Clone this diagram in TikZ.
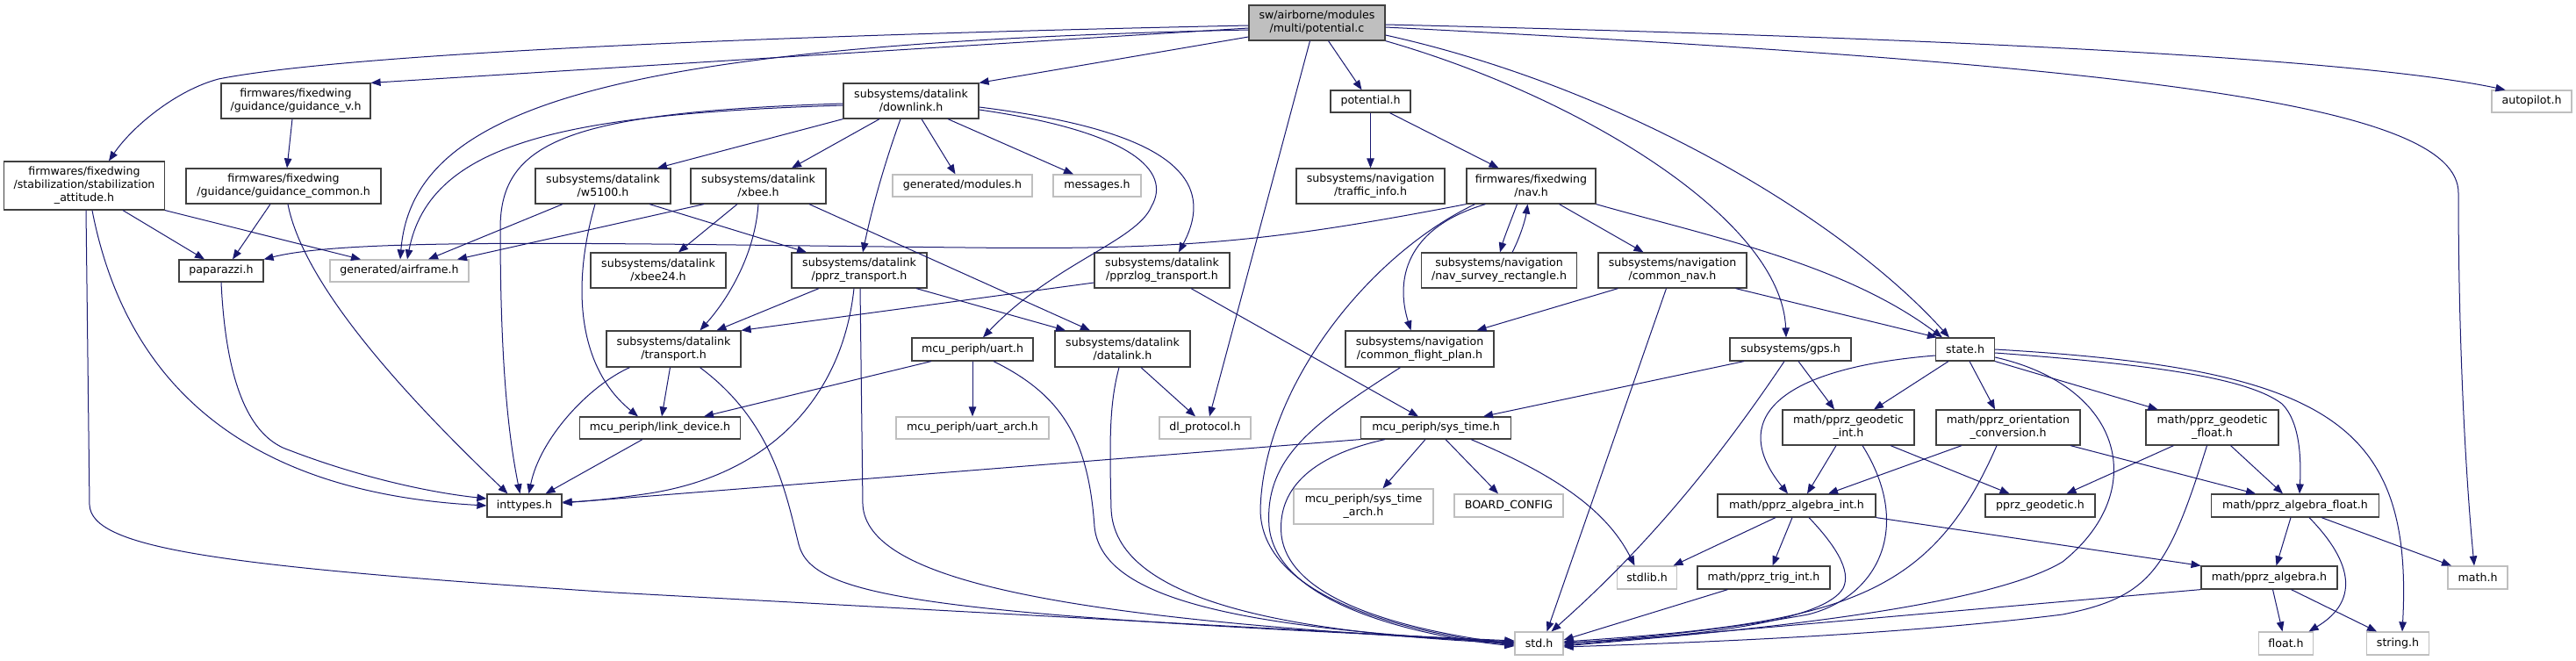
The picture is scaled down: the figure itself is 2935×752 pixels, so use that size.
\documentclass[tikz,border=0pt]{standalone}
\usepackage{fontspec}
\setmainfont{DejaVu Sans}
\usetikzlibrary{arrows.meta}
\definecolor{edgeblue}{RGB}{25,25,112}
\definecolor{boxgray}{RGB}{64,64,64}
\definecolor{lightbd}{RGB}{191,191,191}
\begin{document}
\begin{tikzpicture}[x=1pt,y=-1pt,
 nb/.style={draw=boxgray, line width=1.2pt, fill=white, inner sep=0pt, align=center, font=\fontsize{12.6}{15}\selectfont},
 gb/.style={nb, draw=lightbd},
 rb/.style={nb, fill=lightbd},
 e/.style={draw=edgeblue, line width=1pt, -{Triangle[length=11pt,width=8.5pt]}}
]
\fill[white] (0,0) rectangle (2935,752);
\useasboundingbox (0,0) rectangle (2935,752);

% nodes
\node[rb, minimum width=155pt, minimum height=40pt] (root) at (1500.5,26) {sw/airborne/modules\\/multi/potential.c};
\node[nb, minimum width=183pt, minimum height=55pt] (stab) at (96,211.5) {firmwares/fixedwing\\/stabilization/stabilization\\\_attitude.h};
\node[nb, minimum width=170pt, minimum height=40pt] (gv) at (337,115) {firmwares/fixedwing\\/guidance/guidance\_v.h};
\node[nb, minimum width=222pt, minimum height=40pt] (gc) at (323,212) {firmwares/fixedwing\\/guidance/guidance\_common.h};
\node[nb, minimum width=96pt, minimum height=25pt] (pap) at (252,308.5) {paparazzi.h};
\node[gb, minimum width=158pt, minimum height=25pt] (af) at (455,308.5) {generated/airframe.h};
\node[nb, minimum width=154pt, minimum height=40pt] (dl) at (1038,115) {subsystems/datalink\\/downlink.h};
\node[nb, minimum width=154pt, minimum height=40pt] (w51) at (687,212) {subsystems/datalink\\/w5100.h};
\node[nb, minimum width=154pt, minimum height=40pt] (xbee) at (864,212) {subsystems/datalink\\/xbee.h};
\node[gb, minimum width=159pt, minimum height=25pt] (mod) at (1096.5,211.5) {generated/modules.h};
\node[gb, minimum width=100pt, minimum height=25pt] (msg) at (1250,211.5) {messages.h};
\node[nb, minimum width=154pt, minimum height=40pt] (xb24) at (750,308) {subsystems/datalink\\/xbee24.h};
\node[nb, minimum width=154pt, minimum height=40pt] (ppt) at (979,308) {subsystems/datalink\\/pprz\_transport.h};
\node[nb, minimum width=154pt, minimum height=40pt] (plt) at (1324,308) {subsystems/datalink\\/pprzlog\_transport.h};
\node[nb, minimum width=153pt, minimum height=41pt] (tr) at (767.5,397.5) {subsystems/datalink\\/transport.h};
\node[nb, minimum width=138pt, minimum height=26pt] (uart) at (1108,398) {mcu\_periph/uart.h};
\node[nb, minimum width=154pt, minimum height=41pt] (dlk) at (1279,397.5) {subsystems/datalink\\/datalink.h};
\node[nb, minimum width=183pt, minimum height=25pt] (ld) at (752,487.5) {mcu\_periph/link\_device.h};
\node[gb, minimum width=174pt, minimum height=25pt] (ua) at (1108,487.5) {mcu\_periph/uart\_arch.h};
\node[gb, minimum width=104pt, minimum height=25pt] (dlp) at (1373,487.5) {dl\_protocol.h};
\node[nb, minimum width=85pt, minimum height=26pt] (it) at (597.5,576) {inttypes.h};
\node[nb, minimum width=91pt, minimum height=25pt] (pot) at (1561.5,115.5) {potential.h};
\node[nb, minimum width=169pt, minimum height=40pt] (ti) at (1561.5,212) {subsystems/navigation\\/traffic\_info.h};
\node[nb, minimum width=147pt, minimum height=40pt] (nav) at (1744.5,212) {firmwares/fixedwing\\/nav.h};
\node[nb, minimum width=177pt, minimum height=40pt] (nsr) at (1708,308) {subsystems/navigation\\/nav\_survey\_rectangle.h};
\node[nb, minimum width=169pt, minimum height=40pt] (cn) at (1905.5,308) {subsystems/navigation\\/common\_nav.h};
\node[nb, minimum width=169pt, minimum height=41pt] (cfp) at (1617.5,397.5) {subsystems/navigation\\/common\_flight\_plan.h};
\node[nb, minimum width=138pt, minimum height=26pt] (gps) at (2040,398) {subsystems/gps.h};
\node[nb, minimum width=67pt, minimum height=26pt] (st) at (2239,398) {state.h};
\node[nb, minimum width=171pt, minimum height=25pt] (syt) at (1636,487.5) {mcu\_periph/sys\_time.h};
\node[nb, minimum width=150pt, minimum height=40pt] (gi) at (2106,487) {math/pprz\_geodetic\\\_int.h};
\node[nb, minimum width=164pt, minimum height=40pt] (oc) at (2288,487) {math/pprz\_orientation\\\_conversion.h};
\node[nb, minimum width=151pt, minimum height=40pt] (gf) at (2520.5,487) {math/pprz\_geodetic\\\_float.h};
\node[gb, minimum width=159pt, minimum height=40pt] (sta) at (1553.5,577) {mcu\_periph/sys\_time\\\_arch.h};
\node[gb, minimum width=124pt, minimum height=26pt] (bc) at (1719,576) {BOARD\_CONFIG};
\node[nb, minimum width=180pt, minimum height=26pt] (ai) at (2047,576) {math/pprz\_algebra\_int.h};
\node[nb, minimum width=125pt, minimum height=26pt] (pg) at (2324.5,576) {pprz\_geodetic.h};
\node[nb, minimum width=191pt, minimum height=26pt] (afl) at (2615,576) {math/pprz\_algebra\_float.h};
\node[gb, minimum width=68pt, minimum height=26pt] (sl) at (1876.5,658) {stdlib.h};
\node[nb, minimum width=151pt, minimum height=26pt] (trig) at (2009.5,658) {math/pprz\_trig\_int.h};
\node[nb, minimum width=155pt, minimum height=26pt] (alg) at (2585.5,658) {math/pprz\_algebra.h};
\node[gb, minimum width=68pt, minimum height=26pt] (mh) at (2823,658) {math.h};
\node[gb, minimum width=55pt, minimum height=26pt] (std) at (1753.5,733) {std.h};
\node[gb, minimum width=62pt, minimum height=26pt] (fl) at (2604.5,733) {float.h};
\node[gb, minimum width=71pt, minimum height=26pt] (sh) at (2732,733) {string.h};
\node[gb, minimum width=91pt, minimum height=25pt] (ap) at (2884.5,115.5) {autopilot.h};

% edges from root
\draw[e] ([yshift=-3pt]root.west) .. controls (900,40) and (400,60) .. (249,90) .. controls (200,103) and (150,145) .. ([xshift=28pt]stab.north);
\draw[e] ([yshift=-6pt]root.west) -- (gv.north east);
\draw[e] ([yshift=-8pt]root.west) .. controls (700,50) and (470,120) .. ([xshift=1pt]af.north);
\draw[e] ([yshift=-16pt]root.west) -- (dl.north east);
\draw[e] ([xshift=-8pt]root.south) -- ([xshift=5pt]dlp.north);
\draw[e] ([xshift=13pt]root.south) -- ([xshift=-10pt]pot.north);
\draw[e] (root.south east) .. controls (1800,110) and (2030,250) .. ([xshift=-5pt]gps.north);
\draw[e] ([yshift=-14pt]root.east) .. controls (1850,100) and (2100,250) .. ([xshift=16pt]st.north west);
\draw[e] ([yshift=-2pt]root.east) .. controls (2300,45) and (2700,70) .. ([xshift=-30pt]ap.north);
\draw[e] ([yshift=-5pt]root.east) .. controls (2450,75) and (2801,120) .. (2801,220) .. controls (2801,400) and (2810,550) .. ([xshift=-4pt]mh.north);

% guidance / stabilization
\draw[e] ([xshift=-4pt]gv.south) -- ([xshift=4pt]gc.north);
\draw[e] ([xshift=-15pt]gc.south) -- ([xshift=13pt]pap.north);
\draw[e] ([xshift=5pt]gc.south) .. controls (345,320) and (450,440) .. ([xshift=-19pt]it.north);
\draw[e] ([xshift=44pt]stab.south) -- ([xshift=-19pt]pap.north);
\draw[e] (stab.south east) -- ([xshift=-44pt]af.north);
\draw[e] ([xshift=9pt]stab.south) .. controls (140,420) and (260,560) .. (it.west);
\draw[e] ([xshift=2pt]stab.south) -- (102,575) .. controls (104,625) and (250,645) .. (700,675) -- ([yshift=2pt]std.west);
\draw[e] (pap.south) .. controls (258,450) and (290,500) .. (330,513) .. controls (400,540) and (480,560) .. ([yshift=8pt]it.west);

% downlink
\draw[e] ([yshift=-5pt]dl.west) .. controls (650,130) and (490,160) .. ([xshift=9pt]af.north);
\draw[e] ([yshift=-3pt]dl.west) .. controls (650,128) and (570,160) .. (570,260) .. controls (570,420) and (580,500) .. ([xshift=-5pt]it.north);
\draw[e] (dl.south west) -- ([xshift=62pt]w51.north);
\draw[e] ([xshift=-36pt]dl.south) -- ([xshift=38pt]xbee.north);
\draw[e] ([xshift=-12pt]dl.south) .. controls (1010,180) and (995,230) .. ([xshift=4pt]ppt.north);
\draw[e] ([xshift=12pt]dl.south) -- ([xshift=-8pt]mod.north);
\draw[e] ([xshift=42pt]dl.south) -- ([xshift=-27pt]msg.north);
\draw[e] ([yshift=-10pt]dl.east) .. controls (1290,150) and (1335,195) .. (1312,235) .. controls (1295,275) and (1200,300) .. ([xshift=12pt]uart.north);
\draw[e] ([yshift=-7pt]dl.east) .. controls (1300,145) and (1395,190) .. ([xshift=19pt]plt.north);

% w5100, xbee
\draw[e] ([xshift=-46pt]w51.south) -- ([xshift=33pt]af.north);
\draw[e] ([xshift=-9pt]w51.south) .. controls (650,330) and (660,420) .. ([xshift=-25pt]ld.north);
\draw[e] ([xshift=53pt]w51.south) -- ([xshift=-60pt]ppt.north);
\draw[e] ([xshift=-62pt]xbee.south) -- ([xshift=66pt]af.north);
\draw[e] ([xshift=-24pt]xbee.south) -- ([xshift=23pt]xb24.north);
\draw[e] (xbee.south) .. controls (860,290) and (830,340) .. ([xshift=30pt]tr.north);
\draw[e] ([xshift=58pt]xbee.south) -- ([xshift=-37pt]dlk.north);

% transports
\draw[e] ([xshift=-46pt]ppt.south) -- ([xshift=49pt]tr.north);
\draw[e] ([xshift=-6pt]ppt.south) .. controls (960,450) and (880,540) .. (740,562) .. controls (700,568) and (670,571) .. ([yshift=4pt]it.east);
\draw[e] ([xshift=1pt]ppt.south) -- (983,575) .. controls (988,660) and (1200,705) .. ([yshift=1pt]std.west);
\draw[e] ([xshift=65pt]ppt.south) -- ([xshift=-65pt]dlk.north);
\draw[e] ([yshift=-14pt]plt.west) -- (tr.north east);
\draw[e] ([xshift=33pt]plt.south) -- ([xshift=-20pt]syt.north);
\draw[e] ([xshift=-50pt]tr.south) .. controls (670,440) and (615,500) .. ([xshift=5pt]it.north);
\draw[e] ([xshift=-4pt]tr.south) -- ([xshift=2pt]ld.north);
\draw[e] ([xshift=30pt]tr.south) .. controls (880,480) and (895,560) .. (910,620) .. controls (925,680) and (1050,700) .. ([yshift=3pt]std.west);

% uart, datalink, link_device
\draw[e] ([xshift=-47pt]uart.south) -- ([xshift=50pt]ld.north);
\draw[e] (uart.south) -- (ua.north);
\draw[e] ([xshift=24pt]uart.south) .. controls (1210,450) and (1240,500) .. (1247,600) .. controls (1255,680) and (1400,715) .. ([yshift=1pt]std.west);
\draw[e] ([xshift=21pt]dlk.south) -- ([xshift=-11pt]dlp.north);
\draw[e] ([xshift=-4pt]dlk.south) .. controls (1264,460) and (1264,500) .. (1266,580) .. controls (1270,680) and (1450,720) .. (std.west);
\draw[e] ([xshift=-20pt]ld.south) -- ([xshift=24pt]it.north);

% potential.h, nav
\draw[e] (pot.south) -- (ti.north);
\draw[e] ([xshift=22pt]pot.south) -- ([xshift=-37pt]nav.north);
\draw[e] (nav.south west) .. controls (1450,275) and (1350,285) .. (1100,282) .. controls (700,278) and (400,270) .. (pap.north east);
\draw[e] ([xshift=-52pt]nav.south) .. controls (1600,260) and (1590,320) .. ([xshift=-10pt]cfp.north);
\draw[e] ([xshift=-64pt]nav.south) .. controls (1560,290) and (1440,440) .. (1436,580) .. controls (1436,680) and (1600,720) .. ([yshift=-2pt]std.west);
\draw[e] ([xshift=-16pt]nav.south) .. controls (1722,250) and (1714,270) .. ([xshift=1pt]nsr.north);
\draw[e] ([xshift=15pt]nsr.north) .. controls (1732,270) and (1738,250) .. ([xshift=-4pt]nav.south);
\draw[e] ([xshift=32pt]nav.south) -- ([xshift=-33pt]cn.north);
\draw[e] (nav.south east) .. controls (1950,270) and (2100,300) .. ([xshift=8pt]st.north west);
\draw[e] ([xshift=-62pt]cn.south) -- ([xshift=65pt]cfp.north);
\draw[e] ([xshift=-7pt]cn.south) -- ([xshift=9pt]std.north);
\draw[e] ([xshift=72pt]cn.south) -- ([xshift=2pt]st.north west);
\draw[e] ([xshift=-22pt]cfp.south) .. controls (1500,480) and (1440,520) .. (1446,600) .. controls (1455,690) and (1620,725) .. ([yshift=-3pt]std.west);

% sys_time, gps
\draw[e] (syt.south west) -- ([yshift=3pt]it.east);
\draw[e] ([xshift=-12pt]syt.south) -- ([xshift=22pt]sta.north);
\draw[e] ([xshift=11pt]syt.south) -- ([xshift=-12pt]bc.north);
\draw[e] ([xshift=40pt]syt.south) .. controls (1770,540) and (1830,580) .. ([xshift=-14pt]sl.north);
\draw[e] ([xshift=-58pt]syt.south) .. controls (1490,520) and (1455,560) .. (1460,610) .. controls (1470,690) and (1620,720) .. ([yshift=-1pt]std.west);
\draw[e] ([xshift=-53pt]gps.south) -- ([xshift=54pt]syt.north);
\draw[e] ([xshift=-7pt]gps.south) .. controls (1960,520) and (1880,620) .. ([xshift=14pt]std.north);
\draw[e] ([xshift=9pt]gps.south) -- ([xshift=-16pt]gi.north);

% state
\draw[e] ([xshift=-19pt]st.south) -- ([xshift=29pt]gi.north);
\draw[e] ([yshift=-7pt]st.west) .. controls (2020,420) and (1970,480) .. ([xshift=-10pt]ai.north);
\draw[e] ([yshift=-9pt]st.east) .. controls (2420,440) and (2450,560) .. (2350,640) .. controls (2250,700) and (1900,725) .. ([yshift=-3pt]std.east);
\draw[e] ([xshift=5pt]st.south) -- ([xshift=-15pt]oc.north);
\draw[e] (st.south east) -- ([xshift=-62pt]gf.north);
\draw[e] ([yshift=-4pt]st.east) .. controls (2450,415) and (2560,430) .. (2600,460) .. controls (2620,480) and (2622,520) .. ([xshift=5pt]afl.north);
\draw[e] (st.east) .. controls (2650,420) and (2750,480) .. ([xshift=5pt]sh.north);

% math
\draw[e] ([xshift=-14pt]gi.south) -- ([xshift=12pt]ai.north);
\draw[e] ([xshift=16pt]gi.south) .. controls (2180,600) and (2140,680) .. (2060,700) .. controls (1950,720) and (1850,728) .. (std.east);
\draw[e] ([xshift=48pt]gi.south) -- ([xshift=-35pt]pg.north);
\draw[e] ([xshift=-53pt]oc.south) -- ([xshift=36pt]ai.north);
\draw[e] ([xshift=71pt]oc.south) -- ([xshift=-45pt]afl.north);
\draw[e] ([xshift=-13pt]oc.south) .. controls (2200,680) and (2100,710) .. ([yshift=2pt]std.east);
\draw[e] ([xshift=-44pt]gf.south) -- ([xshift=30pt]pg.north);
\draw[e] ([xshift=21pt]gf.south) -- ([xshift=-14pt]afl.north);
\draw[e] ([xshift=-6pt]gf.south) .. controls (2470,650) and (2450,680) .. (2350,700) .. controls (2150,725) and (1900,733) .. ([yshift=-4pt]std.east);
\draw[e] ([xshift=-24pt]ai.south) -- ([xshift=30pt]sl.north);
\draw[e] ([xshift=-5pt]ai.south) -- ([xshift=10pt]trig.north);
\draw[e] ([xshift=14pt]ai.south) .. controls (2090,620) and (2110,650) .. (2100,670) .. controls (2080,705) and (1950,725) .. ([yshift=1pt]std.east);
\draw[e] (ai.south east) -- ([xshift=-78pt]alg.north);
\draw[e] ([xshift=-41pt]trig.south) -- ([yshift=4pt]std.east);
\draw[e] ([xshift=-5pt]afl.south) -- ([xshift=8pt]alg.north);
\draw[e] ([xshift=16pt]afl.south) .. controls (2690,650) and (2680,690) .. ([xshift=26pt]fl.north);
\draw[e] ([xshift=30pt]afl.south) -- ([xshift=-30pt]mh.north);
\draw[e] ([xshift=4pt]alg.south) -- ([xshift=-4pt]fl.north);
\draw[e] ([xshift=25pt]alg.south) -- ([xshift=-24pt]sh.north);
\draw[e] (alg.south west) -- ([yshift=-2pt]std.east);
\end{tikzpicture}
\end{document}
